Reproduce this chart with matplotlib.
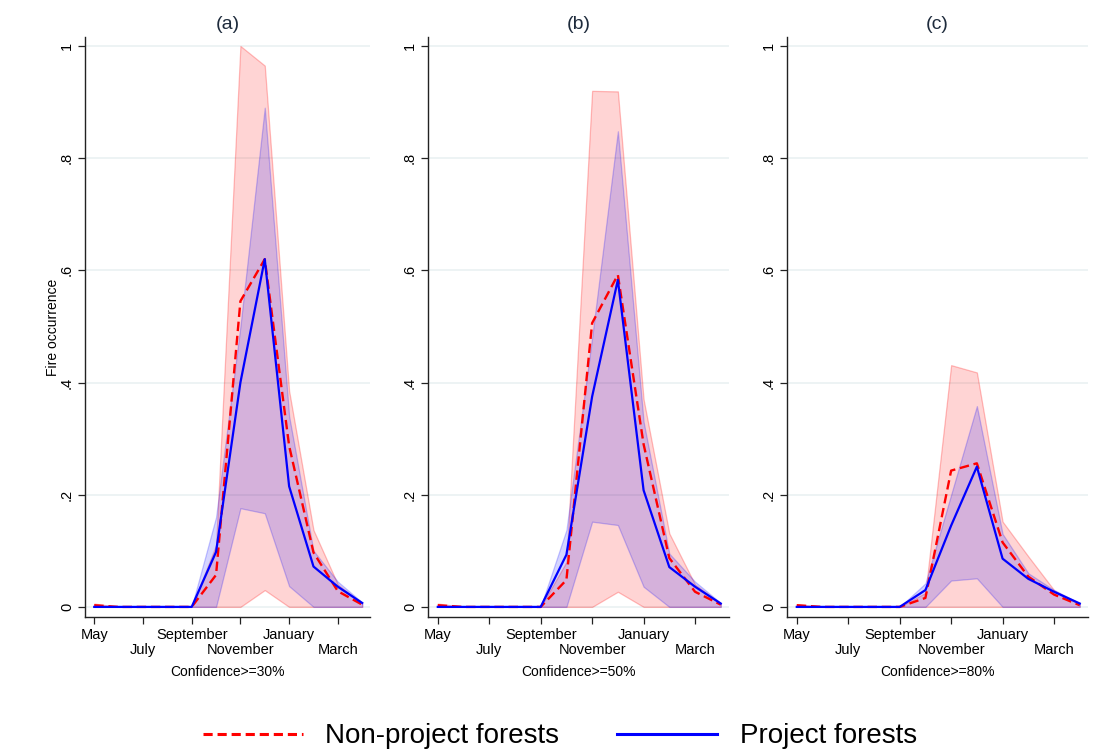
import matplotlib
matplotlib.use("Agg")
import matplotlib.pyplot as plt
from matplotlib.lines import Line2D
import numpy as np

plt.rcParams["font.family"] = ["Liberation Sans", "DejaVu Sans"]

# months May .. April
months = ["May", "Jun", "Jul", "Aug", "Sep", "Oct", "Nov", "Dec", "Jan", "Feb", "Mar", "Apr"]
tick_labels = ["May", "July", "September", "November", "January", "March"]
titles = ["(a)", "(b)", "(c)"]
xlabels = ["Confidence>=30%", "Confidence>=50%", "Confidence>=80%"]

# panel (a)
nonproj_mean_a = [0.003, 0, 0, 0, 0, 0.057, 0.545, 0.62, 0.287, 0.097, 0.028, 0.004]
nonproj_lo_a = [0, 0, 0, 0, 0, 0, 0, 0.03, 0, 0, 0, 0]
nonproj_hi_a = [0.006, 0, 0, 0, 0, 0.11, 1.0, 0.965, 0.385, 0.137, 0.04, 0.006]
proj_mean_a = [0, 0, 0, 0, 0, 0.098, 0.40, 0.62, 0.215, 0.072, 0.036, 0.007]
proj_lo_a = [0, 0, 0, 0, 0, 0, 0.176, 0.167, 0.037, 0, 0, 0]
proj_hi_a = [0, 0, 0, 0, 0, 0.16, 0.5, 0.89, 0.34, 0.10, 0.045, 0.008]

# panel (b)
nonproj_mean_b = [0.003, 0, 0, 0, 0, 0.048, 0.506, 0.592, 0.29, 0.087, 0.027, 0.004]
nonproj_lo_b = [0, 0, 0, 0, 0, 0, 0, 0.027, 0, 0, 0, 0]
nonproj_hi_b = [0.006, 0, 0, 0, 0, 0.08, 0.92, 0.919, 0.37, 0.131, 0.04, 0.006]
proj_mean_b = [0, 0, 0, 0, 0, 0.093, 0.375, 0.583, 0.208, 0.071, 0.036, 0.006]
proj_lo_b = [0, 0, 0, 0, 0, 0, 0.152, 0.146, 0.036, 0, 0, 0]
proj_hi_b = [0, 0, 0, 0, 0, 0.137, 0.48, 0.848, 0.33, 0.095, 0.045, 0.007]

# panel (c)
nonproj_mean_c = [0.003, 0, 0, 0, 0, 0.016, 0.243, 0.256, 0.115, 0.054, 0.022, 0.003]
nonproj_lo_c = [0, 0, 0, 0, 0, 0, 0, 0, 0, 0, 0, 0]
nonproj_hi_c = [0.005, 0, 0, 0, 0, 0.025, 0.431, 0.418, 0.152, 0.09, 0.03, 0.004]
proj_mean_c = [0, 0, 0, 0, 0, 0.03, 0.145, 0.25, 0.086, 0.05, 0.027, 0.006]
proj_lo_c = [0, 0, 0, 0, 0, 0, 0.047, 0.051, 0, 0, 0, 0]
proj_hi_c = [0, 0, 0, 0, 0, 0.042, 0.2, 0.358, 0.13, 0.06, 0.03, 0.007]

panels = [
    (nonproj_mean_a, nonproj_lo_a, nonproj_hi_a, proj_mean_a, proj_lo_a, proj_hi_a),
    (nonproj_mean_b, nonproj_lo_b, nonproj_hi_b, proj_mean_b, proj_lo_b, proj_hi_b),
    (nonproj_mean_c, nonproj_lo_c, nonproj_hi_c, proj_mean_c, proj_lo_c, proj_hi_c),
]

W, H = 1113, 753
fig = plt.figure(figsize=(W / 100, H / 100), dpi=100)

# axes boxes in pixels: left, right
boxes = [(85, 370), (428, 729), (787, 1088)]
top_px, bot_px = 37, 617

x = np.arange(len(months))
grid_col = "#e8f0f1"
title_col = "#1e2b3c"

for i, (nm, nl, nh, pm, pl, ph) in enumerate(panels):
    l, r = boxes[i]
    ax = fig.add_axes([l / W, (H - bot_px) / H, (r - l) / W, (bot_px - top_px) / H])

    ax.fill_between(x, nl, nh, facecolor=(1, 0, 0, 0.17), edgecolor=(1, 0, 0, 0.25), lw=0.9)
    ax.fill_between(x, pl, ph, facecolor=(0, 0, 1, 0.165), edgecolor=(0, 0, 1, 0.22), lw=0.9)
    ax.plot(x, nm, color="red", lw=1.7, dashes=(4.0, 2.0))
    ax.plot(x, pm, color="blue", lw=1.6)

    ax.set_ylim(-0.018, 1.016)
    ax.set_xlim(-0.38, 11.32)
    ax.set_yticks([0, 0.2, 0.4, 0.6, 0.8, 1.0])
    ax.set_yticklabels(["0", ".2", ".4", ".6", ".8", "1"], rotation=90, va="center")
    ax.set_xticks([0, 2, 4, 6, 8, 10])
    ax.set_xticklabels(tick_labels)
    ax.grid(axis="y", color=grid_col, lw=1.1)
    ax.set_axisbelow(True)
    for s in ["top", "right"]:
        ax.spines[s].set_visible(False)
    for s in ["left", "bottom"]:
        ax.spines[s].set_color("#222222")
        ax.spines[s].set_linewidth(1.0)
    ax.tick_params(axis="both", labelsize=10.5, length=5, width=0.9, color="#222222", pad=3)
    # staggered month labels
    for k, tk in enumerate(ax.xaxis.get_major_ticks()):
        if k % 2 == 1:
            tk.set_pad(13.5)
    ax.set_xlabel(xlabels[i], fontsize=10, labelpad=6)
    ax.set_title(titles[i], fontsize=14, color=title_col, pad=6)
    if i == 0:
        ax.set_ylabel("Fire occurrence", fontsize=10, labelpad=0)

handles = [
    Line2D([], [], color="red", lw=2.2, dashes=(3.0, 1.6)),
    Line2D([], [], color="blue", lw=2.2),
]
fig.legend(handles, ["Non-project forests", "Project forests"], loc="center",
           bbox_to_anchor=(0.503, 0.022), ncol=2, frameon=False, fontsize=20,
           handlelength=3.6, handletextpad=0.8, columnspacing=2.1)

fig.savefig("out.png", dpi=100)
